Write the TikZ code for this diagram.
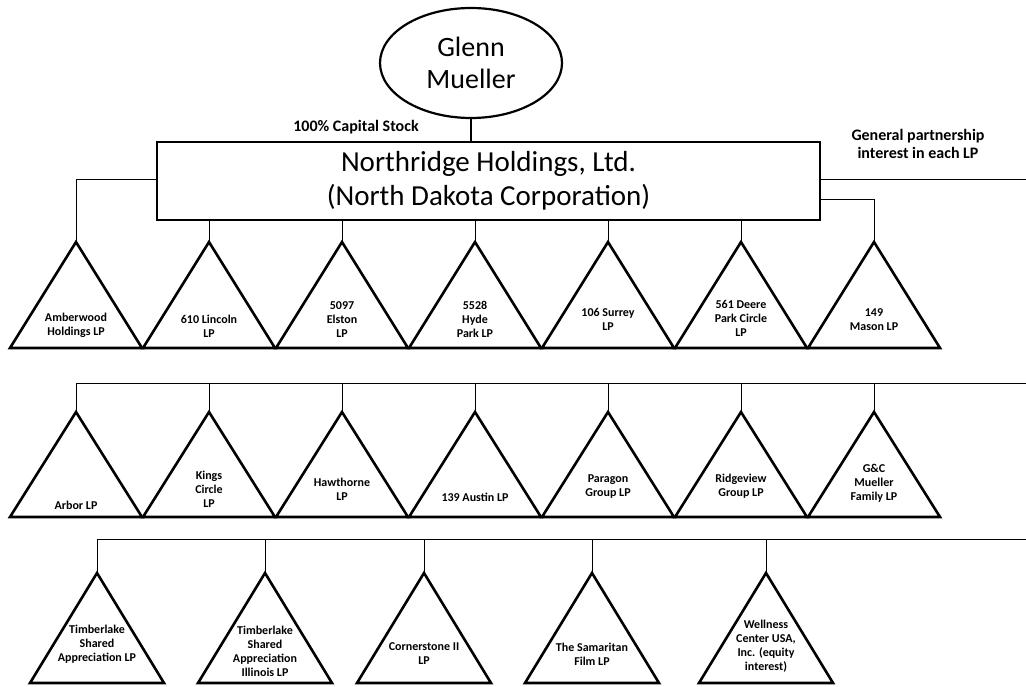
\documentclass[tikz,border=0pt]{standalone}
\usepackage{fontspec}
\setmainfont{Carlito}
\usetikzlibrary{shapes.geometric}
\tikzset{
  tri/.style={line width=2.6pt, line join=miter},
  conn/.style={line width=1pt},
  lbl/.style={align=center, inner sep=0pt, font=\fontsize{12}{14}\selectfont\bfseries},
  note/.style={align=center, inner sep=0pt, font=\fontsize{16}{18}\selectfont\bfseries},
}
\newcommand\tri[7]{% name, x, apexy, basey, halfw, labely, text
  \coordinate (#1) at (#2,#3);
  \draw[tri] (#2,#3) -- (#2+#5,#4) -- (#2-#5,#4) -- cycle;
  \node[lbl] (#1-t) at (#2,#6) {#7};
}
\begin{document}
\begin{tikzpicture}[x=1pt,y=-1pt]
\useasboundingbox (0,0) rectangle (1026,687);
\fill[white] (0,0) rectangle (1026,687);

% top
\node[ellipse, draw, line width=2.2pt, minimum width=182pt, minimum height=110pt, inner sep=0pt, align=center,
      font=\fontsize{28}{32}\selectfont] (g) at (471,63) {Glenn\\Mueller};
\node[rectangle, draw, line width=2.6pt, minimum width=663pt, minimum height=78pt, inner sep=0pt, align=center,
      font=\fontsize{29}{34}\selectfont] (nh) at (488.5,181) {Northridge Holdings, Ltd.\\(North Dakota Corporation)};
\node[note] (cap) at (356,127) {100\% Capital Stock};
\node[note] (gp) at (918,144) {General partnership\\interest in each LP};

% row 1
\tri{a1}{76}{242}{348}{66}{325}{Amberwood\\Holdings LP}
\tri{a2}{209}{242}{348}{66}{326}{610 Lincoln\\LP}
\tri{a3}{342}{242}{348}{66}{320}{5097\\Elston\\LP}
\tri{a4}{475}{242}{348}{66}{319}{5528\\Hyde\\Park LP}
\tri{a5}{608}{242}{348}{66}{319}{106 Surrey\\LP}
\tri{a6}{741}{242}{348}{66}{318}{561 Deere\\Park Circle\\LP}
\tri{a7}{874}{242}{348}{66}{320}{149\\Mason LP}

% row 2
\tri{b1}{76}{412}{517}{66}{505}{Arbor LP}
\tri{b2}{209}{412}{517}{66}{489}{Kings\\Circle\\LP}
\tri{b3}{342}{412}{517}{66}{489}{Hawthorne\\LP}
\tri{b4}{475}{412}{517}{66}{497}{139 Austin LP}
\tri{b5}{608}{412}{517}{66}{487}{Paragon\\Group LP}
\tri{b6}{741}{412}{517}{66}{486}{Ridgeview\\Group LP}
\tri{b7}{874}{412}{517}{66}{483}{G\&C\\Mueller\\Family LP}

% row 3
\tri{c1}{97}{573}{683}{67}{644}{Timberlake\\Shared\\Appreciation LP}
\tri{c2}{265}{573}{683}{67}{651}{Timberlake\\Shared\\Appreciation\\Illinois LP}
\tri{c3}{424}{573}{683}{67}{654}{Cornerstone II\\LP}
\tri{c4}{592}{573}{683}{67}{654}{The Samaritan\\Film LP}
\tri{c5}{766}{573}{683}{67}{646}{Wellness\\Center USA,\\Inc. (equity\\interest)}

% connectors top
\draw[line width=2pt] (g.south) -- (g.south |- nh.north);
\coordinate (r1) at (1026,180);
\draw[conn] (nh.east |- r1) -- (r1);
\draw[conn] (a1) |- (nh.west |- r1);
\draw[conn] (a7) |- (nh.east |- 0,200);
\foreach \n in {a2,a3,a4,a5,a6} \draw[conn] (nh.south -| \n) -- (\n);

% row 2 bus
\coordinate (bus2) at (1026,383);
\draw[conn] (b1) |- (bus2);
\foreach \n in {b2,b3,b4,b5,b6,b7} \draw[conn] (\n |- bus2) -- (\n);

% row 3 bus
\coordinate (bus3) at (1026,539);
\draw[conn] (c1) |- (bus3);
\foreach \n in {c2,c3,c4,c5} \draw[conn] (\n |- bus3) -- (\n);
\end{tikzpicture}
\end{document}
